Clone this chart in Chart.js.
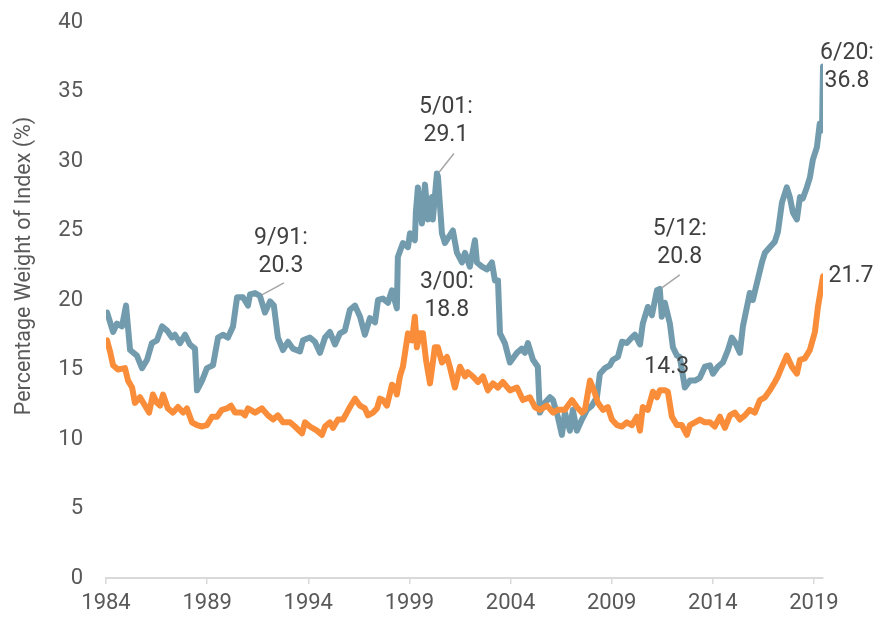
<!DOCTYPE html>
<html>
<head>
<meta charset="utf-8">
<script src="https://cdn.jsdelivr.net/npm/chart.js@4.4.1/dist/chart.umd.min.js"></script>
<style>
  html, body { margin: 0; padding: 0; background: #fff; }
</style>
</head>
<body>
<canvas id="weightChart" width="877" height="618"></canvas>
<script>
// axis ticks
const xTickYears = [1984, 1989, 1994, 1999, 2004, 2009, 2014, 2019];
const yTicks = [0, 5, 10, 15, 20, 25, 30, 35, 40];

// upper (blue-grey) series
const blueYears = [
    1984.05, 1984.35, 1984.54, 1984.79, 1984.99, 1985.19, 1985.53, 1985.78, 1986.03, 1986.27,
    1986.52, 1986.77, 1987.02, 1987.26, 1987.41, 1987.66, 1987.91, 1988.15, 1988.40, 1988.50,
    1988.75, 1988.99, 1989.29, 1989.54, 1989.78, 1990.03, 1990.28, 1990.48, 1990.77, 1991.02,
    1991.12, 1991.37, 1991.61, 1991.86, 1992.11, 1992.30, 1992.50, 1992.75, 1993.00, 1993.24,
    1993.59, 1993.74, 1994.08, 1994.33, 1994.58, 1994.83, 1995.07, 1995.32, 1995.57, 1995.81,
    1996.06, 1996.31, 1996.56, 1996.80, 1997.05, 1997.30, 1997.45, 1997.69, 1997.94, 1998.14,
    1998.38, 1998.43, 1998.68, 1998.93, 1999.03, 1999.27, 1999.32, 1999.42, 1999.62, 1999.77,
    1999.92, 2000.11, 2000.16, 2000.36, 2000.41, 2000.61, 2000.76, 2001.15, 2001.35, 2001.60,
    2001.75, 2001.99, 2002.24, 2002.34, 2002.59, 2002.83, 2003.08, 2003.23, 2003.38, 2003.48,
    2003.72, 2003.97, 2004.32, 2004.56, 2004.71, 2004.86, 2005.11, 2005.35, 2005.45, 2005.70,
    2005.95, 2006.10, 2006.34, 2006.54, 2006.69, 2006.94, 2007.08, 2007.28, 2007.53, 2007.78,
    2008.02, 2008.27, 2008.42, 2008.67, 2008.91, 2009.06, 2009.31, 2009.51, 2009.75, 2010.00,
    2010.15, 2010.40, 2010.54, 2010.79, 2010.99, 2011.24, 2011.38, 2011.48, 2011.63, 2011.88,
    2012.03, 2012.23, 2012.37, 2012.62, 2012.87, 2013.12, 2013.36, 2013.61, 2013.86, 2014.01,
    2014.25, 2014.50, 2014.75, 2014.94, 2015.09, 2015.34, 2015.49, 2015.69, 2015.83, 2015.98,
    2016.18, 2016.43, 2016.58, 2016.82, 2017.07, 2017.22, 2017.42, 2017.66, 2017.81, 2017.96,
    2018.16, 2018.31, 2018.45, 2018.65, 2018.80, 2018.95, 2019.15, 2019.29, 2019.40, 2019.45
];
const blueValues = [
    19.1, 17.7, 18.3, 18.1, 19.6, 16.4, 16.0, 15.1, 15.7, 16.9,
    17.1, 18.1, 17.8, 17.3, 17.5, 16.9, 17.5, 16.8, 16.5, 13.5,
    14.2, 15.1, 15.3, 17.3, 17.5, 17.3, 18.1, 20.2, 20.2, 19.6,
    20.4, 20.5, 20.3, 19.1, 19.9, 19.6, 17.3, 16.4, 17.0, 16.5,
    16.3, 17.1, 17.3, 17.0, 16.2, 17.3, 17.7, 16.8, 17.6, 17.8,
    19.3, 19.6, 18.8, 17.5, 18.7, 18.4, 20.0, 20.1, 19.8, 20.7,
    19.4, 23.1, 24.1, 23.8, 24.8, 24.3, 26.3, 28.1, 25.5, 28.3,
    25.8, 27.4, 25.8, 29.1, 28.9, 24.8, 24.1, 25.0, 23.4, 22.7,
    23.4, 22.4, 24.3, 22.7, 22.4, 22.2, 22.7, 21.4, 21.4, 17.6,
    16.9, 15.5, 16.2, 16.5, 16.2, 16.9, 15.7, 15.2, 11.9, 12.6,
    13.0, 12.8, 11.6, 10.3, 11.9, 10.6, 12.1, 10.6, 11.4, 12.1,
    12.4, 13.0, 14.7, 15.1, 15.3, 15.7, 15.9, 17.0, 16.9, 17.3,
    17.5, 16.8, 18.3, 19.5, 18.9, 20.7, 20.8, 18.8, 19.8, 18.3,
    16.6, 16.0, 15.9, 13.7, 14.2, 14.2, 14.4, 15.2, 15.3, 14.7,
    15.2, 15.5, 16.4, 17.3, 17.0, 16.2, 18.1, 19.5, 20.5, 20.0,
    21.2, 22.7, 23.4, 23.8, 24.2, 24.9, 27.0, 28.1, 27.4, 26.3,
    25.8, 27.4, 27.3, 28.1, 28.8, 30.1, 31.0, 32.7, 32.2, 36.8
];

// lower (orange) series
const orangeYears = [
    1984.05, 1984.20, 1984.35, 1984.59, 1984.94, 1985.09, 1985.29, 1985.43, 1985.68, 1985.93,
    1986.13, 1986.32, 1986.52, 1986.67, 1986.82, 1987.06, 1987.31, 1987.56, 1987.81, 1988.00,
    1988.25, 1988.50, 1988.75, 1988.99, 1989.24, 1989.49, 1989.73, 1989.98, 1990.18, 1990.38,
    1990.72, 1990.87, 1991.02, 1991.37, 1991.71, 1992.01, 1992.26, 1992.50, 1992.75, 1993.10,
    1993.34, 1993.69, 1993.84, 1994.08, 1994.43, 1994.68, 1994.83, 1995.07, 1995.22, 1995.47,
    1995.72, 1995.91, 1996.06, 1996.31, 1996.56, 1996.80, 1996.95, 1997.20, 1997.40, 1997.54,
    1997.69, 1997.89, 1998.14, 1998.29, 1998.38, 1998.53, 1998.68, 1998.93, 1999.13, 1999.27,
    1999.37, 1999.52, 1999.67, 1999.82, 2000.02, 2000.26, 2000.41, 2000.61, 2000.86, 2001.00,
    2001.25, 2001.50, 2001.75, 2001.89, 2002.14, 2002.39, 2002.64, 2002.88, 2003.13, 2003.38,
    2003.62, 2003.97, 2004.32, 2004.61, 2004.96, 2005.21, 2005.45, 2005.80, 2006.10, 2006.34,
    2006.69, 2007.04, 2007.28, 2007.53, 2007.68, 2007.93, 2008.17, 2008.32, 2008.57, 2008.81,
    2009.01, 2009.26, 2009.51, 2009.75, 2010.00, 2010.25, 2010.40, 2010.54, 2010.79, 2011.04,
    2011.24, 2011.38, 2011.63, 2011.78, 2011.98, 2012.23, 2012.47, 2012.72, 2012.87, 2013.12,
    2013.36, 2013.61, 2013.86, 2014.10, 2014.35, 2014.60, 2014.85, 2015.09, 2015.34, 2015.59,
    2015.83, 2016.08, 2016.33, 2016.58, 2016.82, 2017.07, 2017.22, 2017.42, 2017.66, 2017.91,
    2018.16, 2018.31, 2018.55, 2018.80, 2019.05, 2019.20, 2019.36, 2019.45
];
const orangeValues = [
    17.1, 16.3, 15.3, 15.0, 15.1, 14.2, 13.7, 12.6, 13.0, 12.4,
    11.9, 13.2, 12.6, 12.4, 13.2, 12.2, 11.9, 12.3, 11.9, 12.2,
    11.2, 11.0, 10.9, 11.0, 11.6, 11.6, 12.1, 12.2, 12.4, 11.9,
    11.9, 11.7, 12.2, 11.9, 12.2, 11.7, 11.4, 11.7, 11.2, 11.2,
    10.9, 10.4, 11.2, 10.9, 10.6, 10.3, 10.9, 11.2, 10.8, 11.4,
    11.4, 11.9, 12.3, 12.9, 12.4, 12.2, 11.7, 11.9, 12.2, 12.9,
    12.8, 12.4, 13.9, 13.7, 13.2, 14.5, 15.2, 17.6, 17.1, 18.8,
    16.6, 17.6, 17.6, 15.7, 14.0, 16.6, 16.6, 15.5, 15.9, 15.2,
    13.7, 15.2, 14.5, 14.8, 14.5, 14.1, 14.5, 13.5, 14.0, 13.7,
    14.1, 13.5, 13.7, 12.8, 13.0, 12.3, 12.1, 12.4, 11.9, 12.1,
    12.1, 12.8, 12.3, 11.9, 12.1, 14.2, 13.3, 12.6, 12.1, 12.3,
    11.4, 11.0, 10.9, 11.2, 11.0, 11.6, 10.6, 12.3, 12.1, 13.4,
    13.0, 13.5, 13.5, 13.4, 11.6, 11.0, 11.0, 10.3, 11.0, 11.2,
    11.4, 11.2, 11.2, 10.9, 11.6, 10.8, 11.7, 11.9, 11.4, 11.7,
    12.1, 11.9, 12.8, 13.0, 13.5, 14.1, 14.5, 15.2, 16.0, 15.2,
    14.7, 15.7, 15.8, 16.4, 17.7, 19.5, 20.9, 21.7
];

// callout labels: anchored on a data point, offsets in px
const callouts = [
    { x: 1991.61, y: 20.3, lines: ['9/91:', '20.3'], dx: 21, dy: -58, leader: [24, -13] },
    { x: 2000.36, y: 29.1, lines: ['5/01:', '29.1'], dx: 9, dy: -66, leader: [17, -20] },
    { x: 1999.27, y: 18.8, lines: ['3/00:', '18.8'], dx: 32, dy: -34, leader: null },
    { x: 2011.38, y: 20.8, lines: ['5/12:', '20.8'], dx: 20, dy: -60, leader: [20, -14] },
    { x: 2011.38, y: 13.5, lines: ['14.3'], dx: 7, dy: -23, leader: null },
    { x: 2019.45, y: 36.8, lines: ['6/20:', '36.8'], dx: 24, dy: -13, leader: null },
    { x: 2019.45, y: 21.7, lines: ['21.7'], dx: 28, dy: 0, leader: null }
];

const FONT = 'Roboto, "Open Sans", sans-serif';
const BLUE = '#729cae';
const ORANGE = '#f98d3a';

const calloutPlugin = {
    id: 'callouts',
    afterDraw(chart) {
        const ctx = chart.ctx;
        const xs = chart.scales.x;
        const ys = chart.scales.y;
        ctx.save();

        // y axis title
        ctx.translate(25, 266);
        ctx.rotate(-Math.PI / 2);
        ctx.font = '21.5px ' + FONT;
        ctx.fillStyle = '#595959';
        ctx.textAlign = 'center';
        ctx.textBaseline = 'middle';
        ctx.fillText('Percentage Weight of Index (%)', 0, 0);
        ctx.setTransform(1, 0, 0, 1, 0, 0);

        callouts.forEach(c => {
            const px = xs.getPixelForValue(c.x);
            const py = ys.getPixelForValue(c.y);
            if (c.leader) {
                ctx.strokeStyle = '#a6a6a6';
                ctx.lineWidth = 1.5;
                ctx.beginPath();
                ctx.moveTo(px + 2, py - 1);
                ctx.lineTo(px + c.leader[0], py + c.leader[1]);
                ctx.stroke();
            }
            ctx.font = '23px ' + FONT;
            ctx.fillStyle = '#404040';
            ctx.textAlign = 'center';
            ctx.textBaseline = 'middle';
            c.lines.forEach((t, i) => {
                ctx.fillText(t, px + c.dx, py + c.dy + i * 28);
            });
        });
        ctx.restore();
    }
};

const toPoints = (xs, vs) => xs.map((x, i) => ({ x: x, y: vs[i] }));

new Chart(document.getElementById('weightChart'), {
    type: 'line',
    data: {
        datasets: [
            {
                label: 'Orange',
                data: toPoints(orangeYears, orangeValues),
                borderColor: ORANGE,
                borderWidth: 6,
                pointRadius: 0,
                tension: 0,
                borderJoinStyle: 'round',
                borderCapStyle: 'round'
            },
            {
                label: 'Blue',
                data: toPoints(blueYears, blueValues),
                borderColor: BLUE,
                borderWidth: 6,
                pointRadius: 0,
                tension: 0,
                borderJoinStyle: 'round',
                borderCapStyle: 'round'
            }
        ]
    },
    options: {
        responsive: false,
        animation: false,
        devicePixelRatio: 1,
        layout: { padding: { left: 0, right: 54, top: 22, bottom: 0 } },
        plugins: {
            legend: { display: false },
            tooltip: { enabled: false }
        },
        scales: {
            x: {
                type: 'linear',
                min: 1984,
                max: 2019.45,
                afterBuildTicks: s => { s.ticks = xTickYears.map(v => ({ value: v })); },
                afterFit: s => { s.height = 40; },
                grid: {
                    drawOnChartArea: false,
                    drawTicks: true,
                    tickLength: 6,
                    color: '#d9d9d9',
                    lineWidth: 1.5
                },
                border: { color: '#d9d9d9', width: 2 },
                ticks: {
                    padding: 6,
                    maxRotation: 0,
                    color: '#595959',
                    font: { family: FONT, size: 22 },
                    callback: v => String(v)
                }
            },
            y: {
                min: 0,
                max: 40,
                afterBuildTicks: s => { s.ticks = yTicks.map(v => ({ value: v })); },
                afterFit: s => { s.width = 106; },
                // invisible tick marks give the gap between labels and plot
                grid: {
                    drawOnChartArea: false,
                    drawTicks: true,
                    tickLength: 23,
                    color: 'rgba(0,0,0,0)'
                },
                border: { display: false },
                ticks: {
                    padding: 0,
                    color: '#595959',
                    font: { family: FONT, size: 22 }
                }
            }
        }
    },
    plugins: [calloutPlugin]
});
</script>
</body>
</html>
